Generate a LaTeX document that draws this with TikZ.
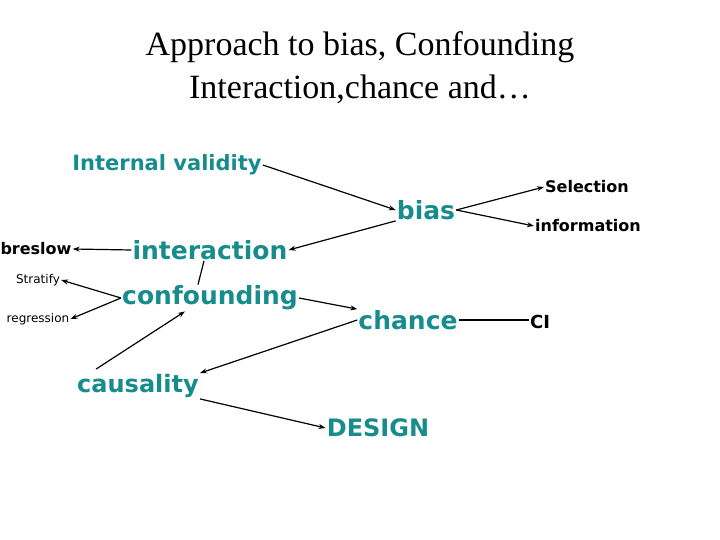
\documentclass[tikz,border=0pt]{standalone}
\usepackage{fontspec}
\setmainfont{Liberation Serif}
\newfontfamily\dejavu{DejaVu Sans}
\usetikzlibrary{arrows.meta}
\definecolor{tealtxt}{RGB}{22,140,140}
\tikzset{
  big/.style={text=tealtxt, font=\dejavu\bfseries\fontsize{25}{28}\selectfont, inner sep=1pt},
  side/.style={font=\dejavu\bfseries\fontsize{16}{18}\selectfont, inner sep=1pt},
  tiny/.style={font=\dejavu\fontsize{12}{14}\selectfont, inner sep=1pt},
  link/.style={line width=1.2pt, -{Stealth[length=7pt,width=5pt]}},
  plain/.style={line width=1.2pt}
}
\begin{document}
\begin{tikzpicture}[x=1pt,y=-1pt]
\useasboundingbox (0,0) rectangle (720,540);

% title
\node[font=\fontsize{34}{43}\selectfont, align=center] (title) at (360,68) {Approach to bias, Confounding\\Interaction,chance and\dots};

% teal terms
\node[big, font=\dejavu\bfseries\fontsize{21}{24}\selectfont] (ival) at (167,165) {Internal validity};
\node[big] (bias) at (426,210) {bias};
\node[big] (inter) at (210,250) {interaction};
\node[big] (conf) at (210,298) {confounding};
\node[big] (chance) at (408,320) {chance};
\node[big, font=\dejavu\bfseries\fontsize{24}{28}\selectfont] (caus) at (138,386) {causality};
\node[big, font=\dejavu\bfseries\fontsize{24}{28}\selectfont] (design) at (378,428) {DESIGN};

% black terms
\node[side] (breslow) at (36,249) {breslow};
\node[tiny] (strat) at (38,280) {Stratify};
\node[tiny] (regr) at (38,319) {regression};
\node[side] (sel) at (587,187) {Selection};
\node[side] (info) at (588,226) {information};
\node[side, font=\dejavu\bfseries\fontsize{18}{20}\selectfont] (ci) at (540,322) {CI};

% connectors
\draw[link] (ival.east) -- (bias.west);
\draw[link] (bias.south west) -- (inter.east);
\draw[link] (inter.west) -- (breslow.east);
\draw[link] (conf.west) -- (strat.east);
\draw[link] (conf.west) -- (regr.east);
\draw[plain] (inter.south) ++(-6,0) -- ([xshift=-12pt]conf.north);
\draw[link] (caus.north west) ++(20,-4) -- ([xshift=-25pt]conf.south);
\draw[link] (conf.east) -- (chance.north west);
\draw[link] (chance.west) -- (caus.north east);
\draw[link] (caus.south east) -- (design.west);
\draw[link] (bias.east) -- (sel.west);
\draw[link] (bias.east) -- (info.west);
\draw[plain] (chance.east) -- (ci.west |- chance.east);
\end{tikzpicture}
\end{document}
